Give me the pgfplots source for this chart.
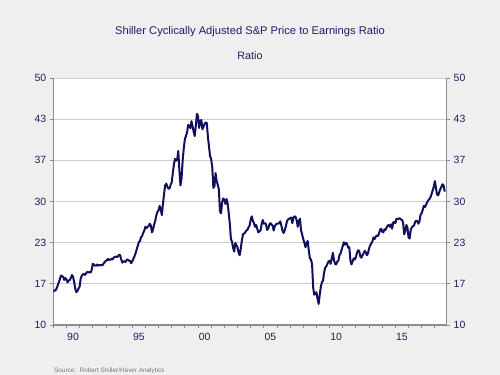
\documentclass[border=0pt]{standalone}
\usepackage{pgfplots}
\usepackage{pgfplotstable}
\pgfplotsset{compat=1.18}
\usepackage{fontspec}
\setmainfont{Liberation Sans}
\definecolor{bgc}{RGB}{239,239,239}
\definecolor{txt}{RGB}{30,30,100}
\definecolor{linec}{RGB}{16,16,92}
\definecolor{gridc}{RGB}{205,205,205}
\definecolor{axc}{RGB}{140,140,140}
\definecolor{srcc}{RGB}{120,120,120}
\pgfplotstableread[row sep=\\]{
v\\
15.4\\15.6\\15.6\\15.9\\16.4\\16.9\\17.4\\18.0\\17.9\\17.8\\17.3\\17.6\\
17.4\\16.9\\17.2\\17.3\\17.6\\18.1\\17.8\\17.0\\15.9\\15.3\\15.5\\15.9\\
16.2\\17.5\\18.0\\18.2\\18.3\\18.1\\18.4\\18.6\\18.5\\18.6\\18.5\\18.9\\
19.9\\19.8\\19.6\\19.6\\19.8\\19.6\\19.7\\19.7\\19.7\\19.7\\20.0\\20.2\\
20.4\\20.5\\20.7\\20.5\\20.6\\20.7\\20.6\\20.9\\21.0\\21.1\\21.0\\21.1\\
21.4\\21.3\\20.6\\20.1\\20.3\\20.3\\20.2\\20.6\\20.6\\20.4\\20.4\\20.0\\
20.3\\20.7\\21.1\\21.6\\22.2\\22.8\\23.4\\23.6\\24.2\\24.4\\24.9\\25.3\\
25.9\\25.7\\25.9\\26.0\\26.4\\26.1\\25.0\\25.5\\26.3\\26.9\\27.8\\28.3\\
28.6\\29.3\\28.7\\27.8\\29.6\\31.2\\32.6\\32.9\\32.4\\32.1\\32.1\\32.7\\
33.1\\34.6\\36.0\\36.9\\36.6\\36.8\\38.2\\35.0\\32.6\\33.8\\36.7\\38.6\\
40.1\\40.6\\41.2\\42.4\\42.2\\41.9\\43.0\\42.2\\41.3\\40.6\\42.3\\44.2\\
43.8\\41.9\\43.0\\43.2\\41.7\\42.1\\42.6\\42.8\\42.7\\40.5\\38.9\\37.3\\
36.9\\35.5\\32.2\\32.5\\34.6\\33.3\\32.7\\32.0\\28.4\\28.1\\29.9\\30.5\\
30.3\\29.6\\30.4\\29.7\\28.1\\26.4\\23.9\\23.5\\22.5\\21.9\\23.3\\22.9\\
22.6\\21.7\\21.3\\22.4\\23.7\\24.7\\24.8\\25.0\\25.3\\25.4\\25.8\\26.1\\
27.0\\27.6\\26.9\\26.5\\25.9\\26.2\\25.6\\25.0\\25.2\\25.3\\26.3\\27.0\\
26.4\\26.5\\26.3\\25.4\\25.6\\26.2\\26.5\\26.3\\26.1\\25.3\\26.0\\26.3\\
26.4\\26.4\\26.5\\26.8\\26.1\\25.3\\24.9\\25.3\\25.9\\26.7\\27.1\\27.2\\
27.3\\27.4\\26.5\\27.4\\27.6\\27.5\\26.9\\25.9\\26.9\\27.2\\25.3\\24.6\\
23.9\\23.3\\22.6\\23.3\\23.6\\22.1\\20.8\\20.6\\19.9\\16.1\\14.9\\15.2\\
15.3\\14.2\\13.4\\14.9\\16.2\\16.9\\17.2\\18.5\\19.3\\19.5\\19.9\\20.3\\
20.4\\19.9\\20.8\\21.7\\20.5\\19.9\\19.8\\20.3\\20.4\\21.3\\21.6\\22.2\\
22.8\\23.4\\23.0\\23.3\\23.1\\22.5\\22.6\\20.4\\19.8\\20.3\\20.8\\20.6\\
21.0\\21.7\\22.1\\22.0\\21.1\\20.9\\21.3\\21.6\\22.0\\21.8\\21.3\\21.6\\
22.4\\22.9\\23.2\\23.5\\24.2\\23.9\\24.3\\24.5\\24.4\\24.8\\25.4\\25.6\\
25.1\\25.0\\25.5\\25.4\\25.8\\26.1\\26.2\\25.9\\26.3\\25.6\\26.6\\26.7\\
26.5\\27.2\\27.2\\27.2\\27.3\\27.1\\27.0\\26.6\\24.7\\25.2\\26.2\\25.8\\
24.2\\24.0\\25.4\\25.8\\26.0\\26.1\\26.7\\26.9\\26.8\\26.4\\26.8\\27.9\\
28.1\\28.7\\29.3\\29.1\\29.5\\29.9\\30.2\\30.4\\30.7\\31.2\\31.8\\32.4\\
33.3\\32.2\\31.1\\31.0\\31.5\\32.0\\32.4\\32.8\\32.6\\31.6\\
}\cape
\begin{document}
\begin{tikzpicture}
\fill[bgc] (0,0) rectangle (500bp,375bp);
\pgfplotsset{
  common/.style={
    at={(53.3bp,50bp)}, anchor=south west,
    width=393.4bp, height=247bp, scale only axis,
    xmin=1989, xmax=2018.9, ymin=10, ymax=50,
    ytick={10,16.6667,23.3333,30,36.6667,43.3333,50},
    yticklabels={10,17,23,30,37,43,50},
    tick label style={font=\fontsize{10.5}{12}\selectfont, text=txt},
    /pgf/number format/assume math mode=true,
    tick align=outside,
    major tick length=3.5bp,
    axis line style={draw=axc, line width=1.2bp},
    tick style={draw=axc, line width=0.8bp},
  }
}
\begin{axis}[common,
    axis x line*=bottom, axis y line*=left,
    axis background/.style={fill=white},
    ymajorgrids, grid style={draw=gridc, line width=0.8bp},
    xtick={1989,...,2018}, xticklabels={},
    extra x ticks={1990.5,1995.5,2000.5,2005.5,2010.5,2015.5},
    extra x tick labels={90,95,00,05,10,15},
    extra x tick style={grid=none, tick style={draw=none}},
    xticklabel style={yshift=-1.5bp},
  ]
\addplot[linec, line width=2bp, line join=round, no markers] table[x expr={1989+\coordindex/12}, y=v]{\cape};
\end{axis}
\begin{axis}[common,
    axis x line=none, axis y line*=right,
  ]
\end{axis}
\node[anchor=base, text=txt, font=\fontsize{11.2}{13}\selectfont] at (250bp,340.7bp) {Shiller Cyclically Adjusted S\&P Price to Earnings Ratio};
\node[anchor=base, text=txt, font=\fontsize{10.8}{13}\selectfont] at (250bp,315.7bp) {Ratio};
\node[anchor=base west, inner sep=0pt, text=srcc, font=\fontsize{6.4}{8}\selectfont] at (54bp,2.5bp) {Source:\ \ Robert Shiller/Haver Analytics};
\end{tikzpicture}
\end{document}
